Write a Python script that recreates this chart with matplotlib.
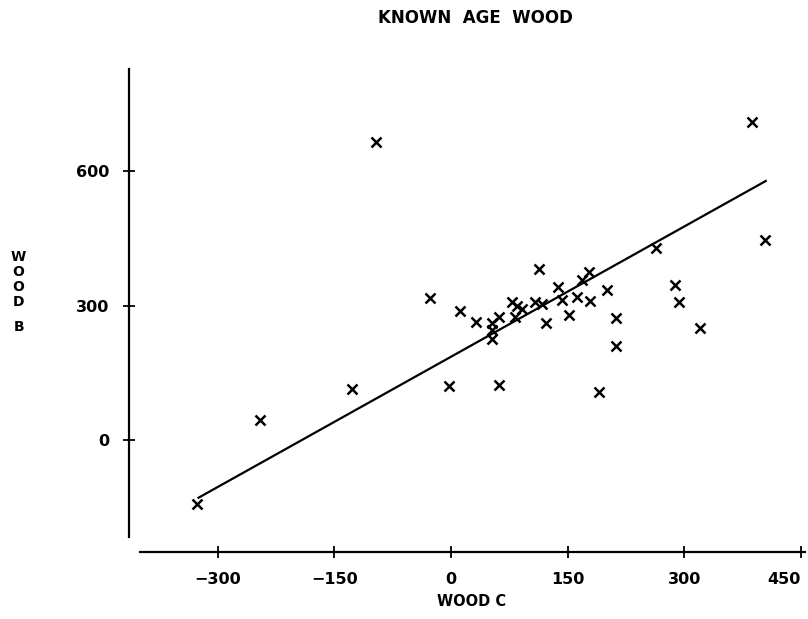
import matplotlib.pyplot as plt

# known age wood samples
wood_c = [-327, -246, -127, -3, -97, -27, 12, 32, 53, 62, 53, 53, 79, 85, 82, 91,
          108, 117, 113, 122, 138, 143, 152, 162, 169, 178, 179, 201, 212, 212,
          190, 62, 264, 288, 293, 320, 387, 404]
wood_b = [-142, 45, 113, 120, 664, 316, 287, 264, 260, 275, 246, 226, 307, 300, 275, 293,
          309, 304, 382, 262, 342, 313, 280, 320, 357, 375, 311, 335, 273, 210,
          106, 122, 428, 346, 307, 250, 710, 446]

# fitted line end points
fit_x = [-325, 405]
fit_y = [-129, 578]

x_ticks = [-300, -150, 0, 150, 300, 450]
y_ticks = [0, 300, 600]


def main():
    fig = plt.figure(figsize=(8.08, 6.19), dpi=100)
    ax = fig.add_axes([0.1543, 0.1047, 0.8424, 0.7838])

    ax.plot(wood_c, wood_b, 'x', color='black', markersize=7, markeredgewidth=1.8)
    ax.plot(fit_x, fit_y, color='black', linewidth=1.6)

    ax.set_xlim(-420, 456)
    ax.set_ylim(-255, 828)

    ax.spines['top'].set_visible(False)
    ax.spines['right'].set_visible(False)
    ax.spines['left'].set_position(('data', -414))
    ax.spines['left'].set_bounds(-216, 828)
    ax.spines['bottom'].set_position(('data', -250))
    ax.spines['bottom'].set_bounds(-400, 456)
    for s in ['left', 'bottom']:
        ax.spines[s].set_linewidth(1.6)

    ax.set_xticks(x_ticks)
    ax.set_yticks(y_ticks)
    ax.tick_params(direction='inout', length=9, width=1.3, labelsize=11.5, pad=10)
    for lab in ax.get_xticklabels() + ax.get_yticklabels():
        lab.set_fontweight('bold')
    # last label sits left of its tick, the page edge cuts it in the original
    ax.get_xticklabels()[-1].set_horizontalalignment('right')

    fig.text(0.589, 0.971, "KNOWN  AGE  WOOD", ha='center', va='center',
             fontsize=12, fontweight='bold')
    fig.text(0.583, 0.029, "WOOD C", ha='center', va='center',
             fontsize=10.5, fontweight='bold')
    fig.text(0.023, 0.548, "W\nO\nO\nD", ha='center', va='center',
             fontsize=10, fontweight='bold', linespacing=1.08)
    fig.text(0.023, 0.472, "B", ha='center', va='center',
             fontsize=10, fontweight='bold')

    fig.savefig("out.png", dpi=100)


if __name__ == '__main__':
    main()
